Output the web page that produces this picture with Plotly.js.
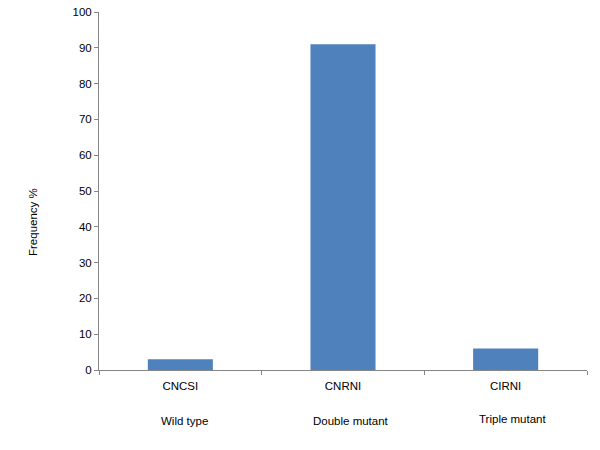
<!DOCTYPE html>
<html>
<head>
<meta charset="utf-8">
<script src="https://cdn.plot.ly/plotly-3.0.1.min.js"></script>
<style>html,body{margin:0;padding:0;background:#fff;}#chart{width:600px;height:450px;}</style>
</head>
<body>
<div id="chart"></div>
<script>
const categories = ["CNCSI", "CNRNI", "CIRNI"];
const groups = ["Wild type", "Double mutant", "Triple mutant"];
const frequency = [3, 91, 6];
const yTicks = [0, 10, 20, 30, 40, 50, 60, 70, 80, 90, 100];
const yTitle = "Frequency %";

const font = {family: "Liberation Sans, Arial, sans-serif", size: 11.5, color: "#000"};

const trace = {
  type: "bar",
  x: categories,
  y: frequency,
  width: 0.4,
  marker: {color: "#4F81BD", line: {width: 0}},
  hoverinfo: "skip"
};

const groupOffsets = [4, 8, 7];
const groupY = [-51, -51, -49];
const annotations = groups.map((g, i) => ({
  x: categories[i], xref: "x",
  y: 0, yref: "y",
  yshift: groupY[i],
  xshift: groupOffsets[i],
  text: g, showarrow: false,
  xanchor: "center", yanchor: "middle",
  font: font
}));
annotations.push({
  x: 0, xref: "paper", xshift: -66, xanchor: "center",
  y: 0, yref: "y", yshift: 148, yanchor: "middle",
  text: yTitle, textangle: -90, showarrow: false,
  font: font
});

const layout = {
  width: 600, height: 450,
  margin: {l: 99, r: 13, t: 12, b: 80},
  paper_bgcolor: "#fff", plot_bgcolor: "#fff",
  font: font,
  showlegend: false,
  xaxis: {
    type: "category",
    range: [-0.5, 2.5],
    showline: true, linecolor: "#868686", linewidth: 1,
    ticks: "outside", tickson: "boundaries", ticklen: 4, tickcolor: "#868686",
    ticklabelstandoff: 5,
    showgrid: false, zeroline: false,
    tickfont: font,
    fixedrange: true
  },
  yaxis: {
    range: [0, 100],
    tickvals: yTicks,
    showline: true, linecolor: "#868686", linewidth: 1,
    ticks: "outside", ticklen: 4, tickcolor: "#868686",
    showgrid: false, zeroline: false,
    tickfont: font,
    automargin: false
  },
  annotations: annotations
};

Plotly.newPlot("chart", [trace], layout, {staticPlot: true});
</script>
</body>
</html>
